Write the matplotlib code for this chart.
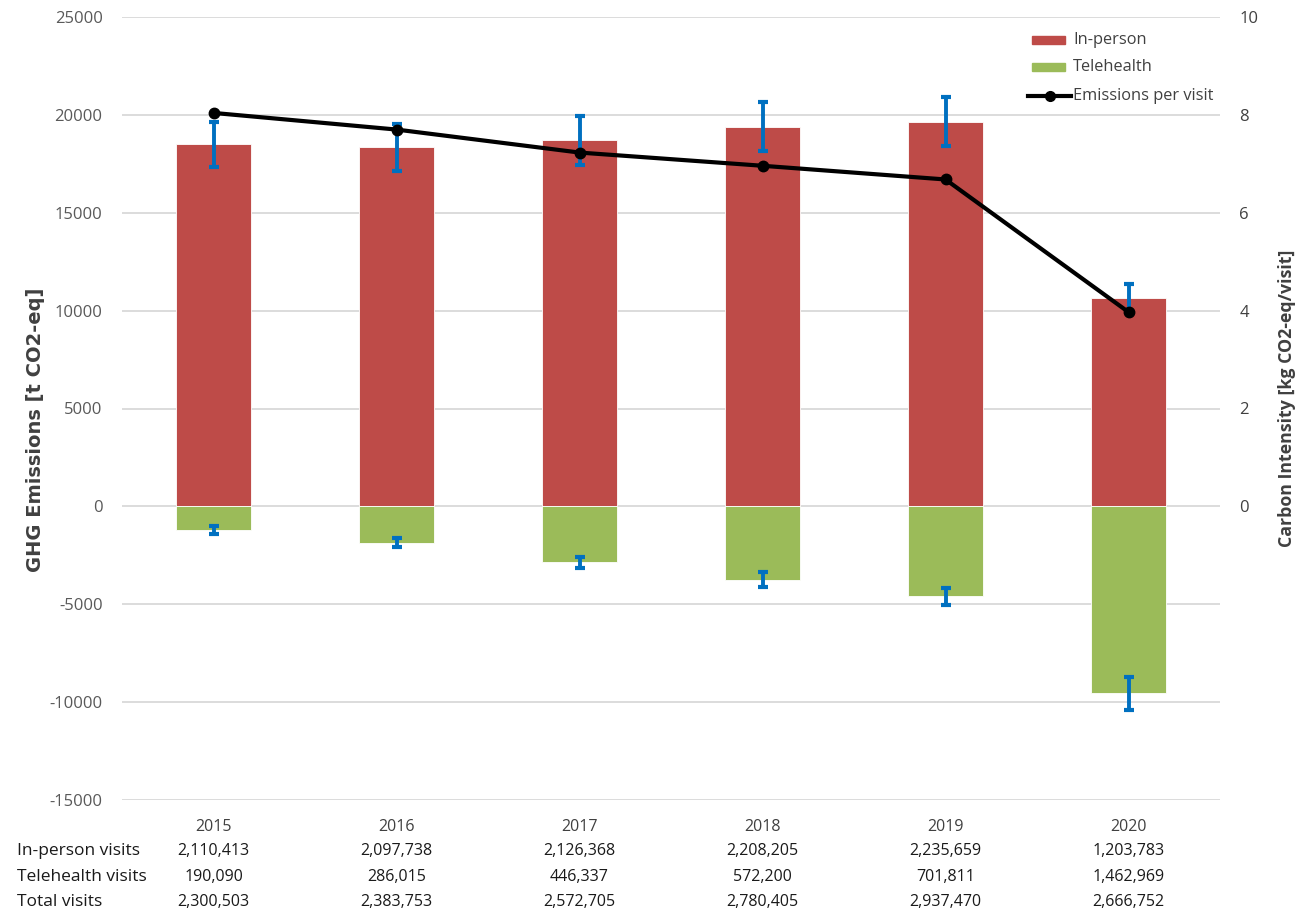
import matplotlib
matplotlib.use("Agg")
import matplotlib.pyplot as plt
from matplotlib.patches import Rectangle
from matplotlib.lines import Line2D
from matplotlib.transforms import blended_transform_factory
import numpy as np

# ---- data -------------------------------------------------------------
years = ["2015", "2016", "2017", "2018", "2019", "2020"]
inperson_emis = [18500, 18350, 18700, 19400, 19650, 10650]      # t CO2-eq
inperson_err = [1150, 1200, 1250, 1250, 1250, 700]
telehealth_emis = [-1200, -1850, -2850, -3750, -4600, -9550]    # t CO2-eq
telehealth_err = [200, 250, 280, 380, 430, 840]
emis_per_visit = [8.04, 7.70, 7.23, 6.96, 6.68, 3.97]            # kg CO2-eq/visit

table_rows = ["In-person visits", "Telehealth visits", "Total visits"]
inperson_visits = ["2,110,413", "2,097,738", "2,126,368", "2,208,205", "2,235,659", "1,203,783"]
telehealth_visits = ["190,090", "286,015", "446,337", "572,200", "701,811", "1,462,969"]
total_visits = ["2,300,503", "2,383,753", "2,572,705", "2,780,405", "2,937,470", "2,666,752"]

left_ticks = [-15000, -10000, -5000, 0, 5000, 10000, 15000, 20000, 25000]
right_ticks = [0, 2, 4, 6, 8, 10]
legend_labels = ["In-person", "Telehealth", "Emissions per visit"]

# ---- style ------------------------------------------------------------
RED = "#BE4B48"
GREEN = "#9BBB59"
BLUE = "#0070C0"
GRID = "#D9D9D9"
TICK = "#595959"
TXT = "#404040"
W, H = 1314, 915

plt.rcParams["font.family"] = ["Open Sans", "DejaVu Sans"]


def fx(px):
    return px / W


def fy(py):
    return 1 - py / H


fig = plt.figure(figsize=(W / 100, H / 100), dpi=100)
ax = fig.add_axes([fx(122), fy(800), fx(1220) - fx(122), fy(17) - fy(800)])
x = np.arange(len(years))
w = 0.41

ax.bar(x, inperson_emis, w, color=RED, edgecolor="white", linewidth=0.6, zorder=2)
ax.bar(x, telehealth_emis, w, color=GREEN, edgecolor="white", linewidth=0.6, zorder=2)
ax.errorbar(x, inperson_emis, yerr=inperson_err, fmt="none", ecolor=BLUE,
            elinewidth=2.8, capsize=3.5, capthick=3, zorder=3)
ax.errorbar(x, telehealth_emis, yerr=telehealth_err, fmt="none", ecolor=BLUE,
            elinewidth=2.8, capsize=3.5, capthick=3, zorder=3)

ax.set_xlim(-0.5, 5.5)
ax.set_ylim(-15000, 25000)
ax.set_yticks(left_ticks)
ax.set_yticklabels([str(t) for t in left_ticks])
ax.set_xticks([])
ax.grid(axis="y", color=GRID, lw=1.3, zorder=0)
ax.set_axisbelow(True)
for s in ax.spines.values():
    s.set_visible(False)
ax.tick_params(axis="y", length=0, pad=14, labelsize=12, labelcolor=TICK)

ax2 = ax.twinx()
ax2.plot(x, emis_per_visit, color="black", lw=3.0, marker="o", markersize=7.5,
         zorder=5)
ax2.set_ylim(-6, 10)
ax2.set_yticks(right_ticks)
ax2.set_yticklabels([str(t) for t in right_ticks])
for s in ax2.spines.values():
    s.set_visible(False)
ax2.tick_params(axis="y", length=0, pad=14, labelsize=12, labelcolor=TXT)

# axis titles
fig.text(fx(36), fy(430), "GHG Emissions [t CO2-eq]", rotation=90,
         ha="center", va="center", fontsize=14, fontweight="bold",
         family=["DejaVu Sans"], color=TXT)
fig.text(fx(1287), fy(398), "Carbon Intensity [kg CO2-eq/visit]", rotation=90,
         ha="center", va="center", fontsize=12.8, fontweight="bold", color=TXT)

# legend, drawn in figure pixels
leg_rows = [40, 67, 96]
for py, col in zip(leg_rows[:2], [RED, GREEN]):
    fig.patches.append(Rectangle((fx(1032), fy(py + 4)), fx(33), fy(py - 4) - fy(py + 4),
                                 transform=fig.transFigure, color=col))
fig.lines.append(Line2D([fx(1028), fx(1071)], [fy(leg_rows[2])] * 2,
                        transform=fig.transFigure, color="black", lw=3.0))
fig.lines.append(Line2D([fx(1049.5)], [fy(leg_rows[2])], transform=fig.transFigure,
                        color="black", marker="o", markersize=7))
for py, lab in zip(leg_rows, legend_labels):
    fig.text(fx(1073), fy(py), lab, ha="left", va="center", fontsize=11.8,
             color=TXT)

# table under the chart
tr = blended_transform_factory(ax.transData, fig.transFigure)
for i, yr in enumerate(years):
    ax.text(x[i], fy(827), yr, transform=tr, ha="center", va="center",
            fontsize=11.5, color=TXT)
for r, (py, vals) in enumerate(zip([851, 877, 902],
                                   [inperson_visits, telehealth_visits, total_visits])):
    fig.text(fx(17), fy(py), table_rows[r], ha="left", va="center",
             fontsize=12.5, color="#1a1a1a")
    for i, v in enumerate(vals):
        ax.text(x[i], fy(py), v, transform=tr, ha="center", va="center",
                fontsize=11.5, color="#1a1a1a")

fig.savefig("out.png", dpi=100, facecolor="white")
